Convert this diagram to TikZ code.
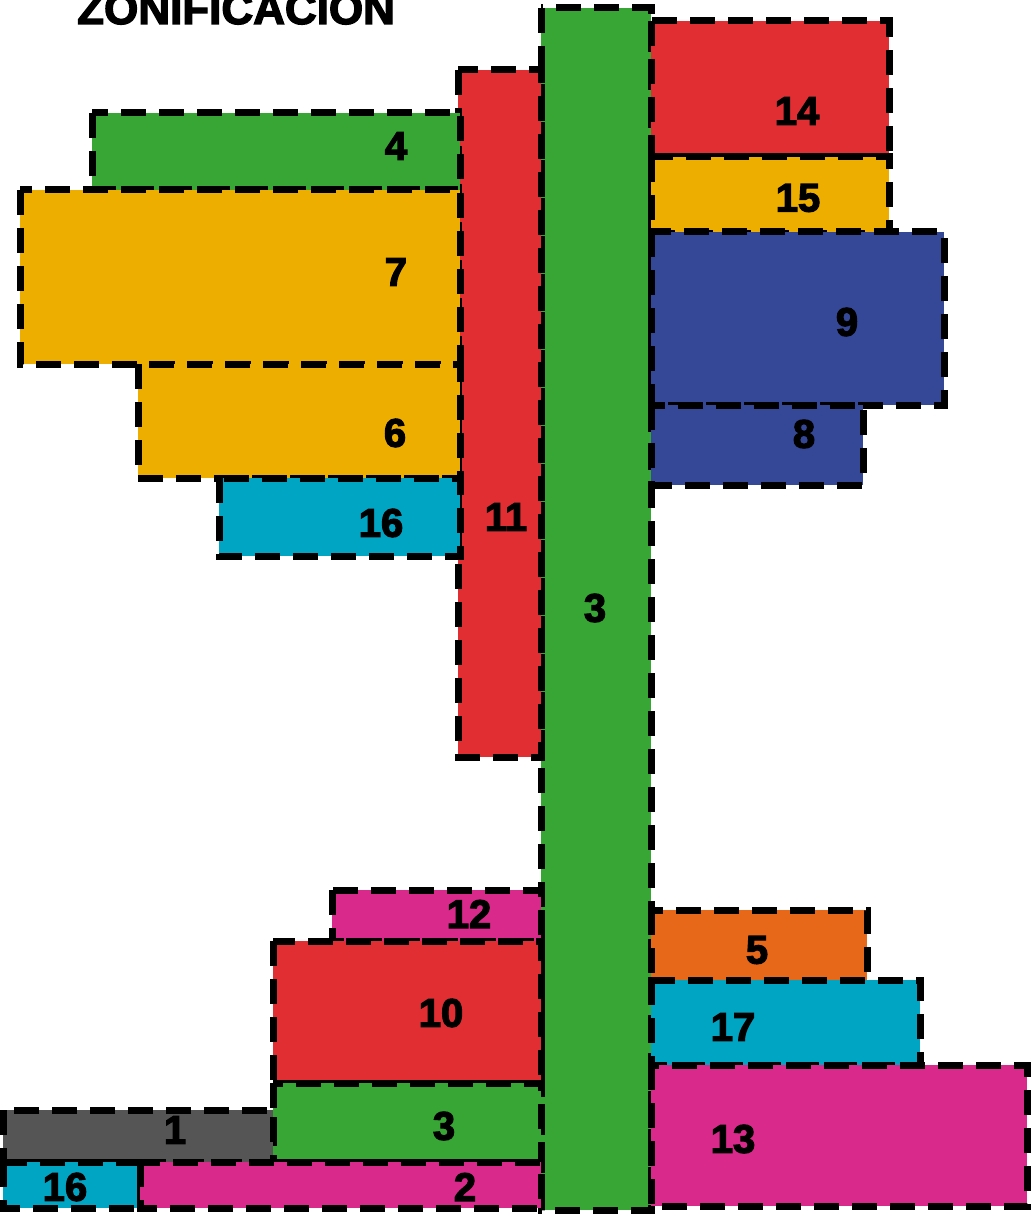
\documentclass[tikz,border=0pt]{standalone}
\usepackage{fontspec}
\setmainfont{Liberation Sans}
\newfontfamily\heavy[FakeBold=3]{Liberation Sans Bold}
\definecolor{zgreen}{RGB}{55,166,52}
\definecolor{zred}{RGB}{225,46,50}
\definecolor{zyellow}{RGB}{238,174,0}
\definecolor{zblue}{RGB}{52,72,151}
\definecolor{zcyan}{RGB}{0,165,196}
\definecolor{zmag}{RGB}{217,41,138}
\definecolor{zorange}{RGB}{232,104,26}
\definecolor{zgray}{RGB}{85,85,85}
\tikzset{
  zone/.style={draw=black, line width=7pt, dash pattern=on 25pt off 13pt},
  lbl/.style={font=\heavy\fontsize{40}{40}\selectfont, text=black, inner sep=0pt},
}
\begin{document}
\begin{tikzpicture}[x=1pt,y=-1pt]
\useasboundingbox (0,0) rectangle (1033,1214);
\begin{scope}
\clip (0,0) rectangle (1033,1214);
\node[font=\heavy\fontsize{44}{44}\selectfont, anchor=base west, inner sep=0pt] (title) at (77,24) {ZONIFICACION};
% main spine
\filldraw[zone, fill=zgreen] (541,8) rectangle (651,1210);
% left upper
\filldraw[zone, fill=zred] (458,70) rectangle (541,757);
\filldraw[zone, fill=zgreen] (92,113) rectangle (460,190);
\filldraw[zone, fill=zyellow] (20,190) rectangle (460,364);
\filldraw[zone, fill=zyellow] (138,364) rectangle (460,478);
\filldraw[zone, fill=zcyan] (219,478) rectangle (460,556);
% right upper
\filldraw[zone, fill=zred] (651,21) rectangle (889,157);
\filldraw[zone, fill=zyellow] (651,157) rectangle (889,234);
\filldraw[zone, fill=zblue] (651,232) rectangle (944,405);
\filldraw[zone, fill=zblue] (651,405) rectangle (863,485);
% left lower
\filldraw[zone, fill=zmag] (332,890) rectangle (541,941);
\filldraw[zone, fill=zred] (273,941) rectangle (541,1083);
\filldraw[zone, fill=zgreen] (273,1083) rectangle (541,1162);
\filldraw[zone, fill=zgray] (3,1110) rectangle (273,1162);
\filldraw[zone, fill=zcyan] (3,1162) rectangle (140,1208);
\filldraw[zone, fill=zmag] (140,1162) rectangle (541,1208);
% right lower
\filldraw[zone, fill=zorange] (651,910) rectangle (867,985);
\filldraw[zone, fill=zcyan] (651,980) rectangle (920,1065);
\filldraw[zone, fill=zmag] (651,1065) rectangle (1027,1206);
\end{scope}
% labels
\node[lbl] (l4) at (396,146) {4};
\node[lbl] (l7) at (396,272) {7};
\node[lbl] (l6) at (395,433) {6};
\node[lbl] (l16a) at (381,523) {16};
\node[lbl] (l11) at (506,517) {11};
\node[lbl] (l3a) at (595,608) {3};
\node[lbl] (l14) at (797,111) {14};
\node[lbl] (l15) at (798,198) {15};
\node[lbl] (l9) at (847,322) {9};
\node[lbl] (l8) at (804,434) {8};
\node[lbl] (l12) at (469,914) {12};
\node[lbl] (l10) at (441,1013) {10};
\node[lbl] (l5) at (757,950) {5};
\node[lbl] (l17) at (733,1027) {17};
\node[lbl] (l3b) at (444,1126) {3};
\node[lbl] (l1) at (175,1130) {1};
\node[lbl] (l16b) at (65,1187) {16};
\node[lbl] (l2) at (465,1187) {2};
\node[lbl] (l13) at (733,1139) {13};
\end{tikzpicture}
\end{document}
